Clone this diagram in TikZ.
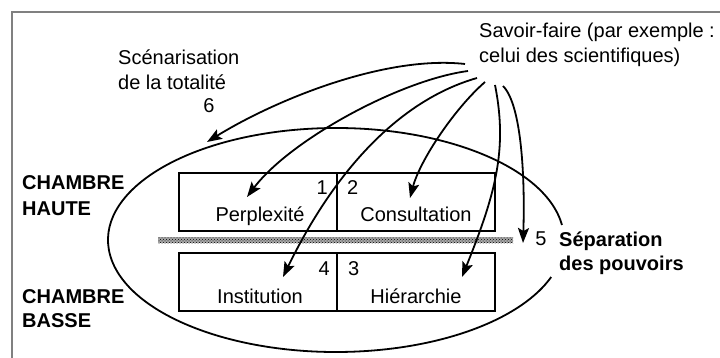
\documentclass[tikz,border=0pt]{standalone}
\usepackage{fontspec}
\setmainfont{Liberation Sans}
\usetikzlibrary{arrows.meta,patterns}
\begin{document}
\begin{tikzpicture}[x=1pt,y=1pt,
  txt/.style={inner sep=0pt, font=\fontsize{20}{24}\selectfont},
  btxt/.style={inner sep=0pt, font=\fontsize{20}{24}\selectfont\bfseries},
  cell/.style={draw, line width=1.9pt, minimum width=158pt, minimum height=58pt, inner sep=0pt},
  arr/.style={line width=1.8pt, -{Stealth[length=15pt,width=11pt,inset=3pt]}},
  sepbar/.style={minimum width=355pt, minimum height=6pt, inner sep=0pt,
    preaction={fill=gray!70}, pattern=crosshatch dots, pattern color=black},
]
\useasboundingbox (0,0) rectangle (720,-358);
\begin{scope}
  \clip (0,0) rectangle (720,-358);
  \draw[gray, line width=1.5pt] (12,-12) rectangle (760,-400);
\end{scope}

% ellipse (with gap on the right)
\coordinate (ec) at (336,-240);
\draw[line width=1.8pt] ([shift={(7.7:228pt and 112pt)}]ec)
  arc[start angle=7.7, end angle=340.7, x radius=228pt, y radius=112pt];

% cells
\node[cell] (boxP) at (258,-202) {};
\node[cell] (boxC) at (416,-202) {};
\node[cell] (boxI) at (258,-282) {};
\node[cell] (boxH) at (416,-282) {};

% separation bar
\node[sepbar] (bar) at (335.5,-240) {};

% texts
\node[txt, anchor=base west] (scen1) at (118,-65) {Scénarisation};
\node[txt, anchor=base west] (scen2) at (118,-90) {de la totalité};
\node[txt, anchor=base] (n6) at (209,-113) {6};
\node[txt, anchor=base west] (sav1) at (479,-38) {Savoir-faire (par exemple :};
\node[txt, anchor=base west] (sav2) at (479,-63) {celui des scientifiques)};
\node[btxt, anchor=base west] (ch1) at (22,-190) {CHAMBRE};
\node[btxt, anchor=base west] (ha) at (22,-215) {HAUTE};
\node[btxt, anchor=base west] (ch2) at (22,-303) {CHAMBRE};
\node[btxt, anchor=base west] (ba) at (22,-327) {BASSE};
\node[txt, anchor=base] (tP) at (260,-222) {Perplexité};
\node[txt, anchor=base] (tC) at (416,-222) {Consultation};
\node[txt, anchor=base] (tI) at (260,-303) {Institution};
\node[txt, anchor=base] (tH) at (416,-303) {Hiérarchie};
\node[txt, anchor=base east] (n1) at (328,-195) {1};
\node[txt, anchor=base west] (n2) at (347,-195) {2};
\node[txt, anchor=base east] (n4) at (330,-275) {4};
\node[txt, anchor=base west] (n3) at (348,-275) {3};
\node[txt, anchor=base] (n5) at (541,-245) {5};
\node[btxt, anchor=base west] (sep1) at (559,-246) {Séparation};
\node[btxt, anchor=base west] (sep2) at (559,-270) {des pouvoirs};

% arrow start and tip points
\coordinate (s6) at (465,-64);
\coordinate (s1) at (468,-71);
\coordinate (s4) at (477,-78);
\coordinate (s2) at (485,-82);
\coordinate (s3) at (495,-85);
\coordinate (s5) at (503,-86);
\coordinate (e6) at (207,-142);
\coordinate (e1) at (247,-197);
\coordinate (e4) at (283,-277);
\coordinate (e2) at (410,-198);
\coordinate (e3) at (462,-277);
\coordinate (e5) at (523,-243);

\draw[arr] (s6) .. controls (385,-55) and (275,-100) .. (e6);
\draw[arr] (s1) .. controls (400,-80) and (290,-140) .. (e1);
\draw[arr] (s4) .. controls (400,-100) and (335,-170) .. (e4);
\draw[arr] (s2) .. controls (455,-108) and (420,-160) .. (e2);
\draw[arr] (s3) .. controls (508,-150) and (495,-195) .. (e3);
\draw[arr] (s5) .. controls (522,-105) and (525,-180) .. (e5);
\end{tikzpicture}
\end{document}
